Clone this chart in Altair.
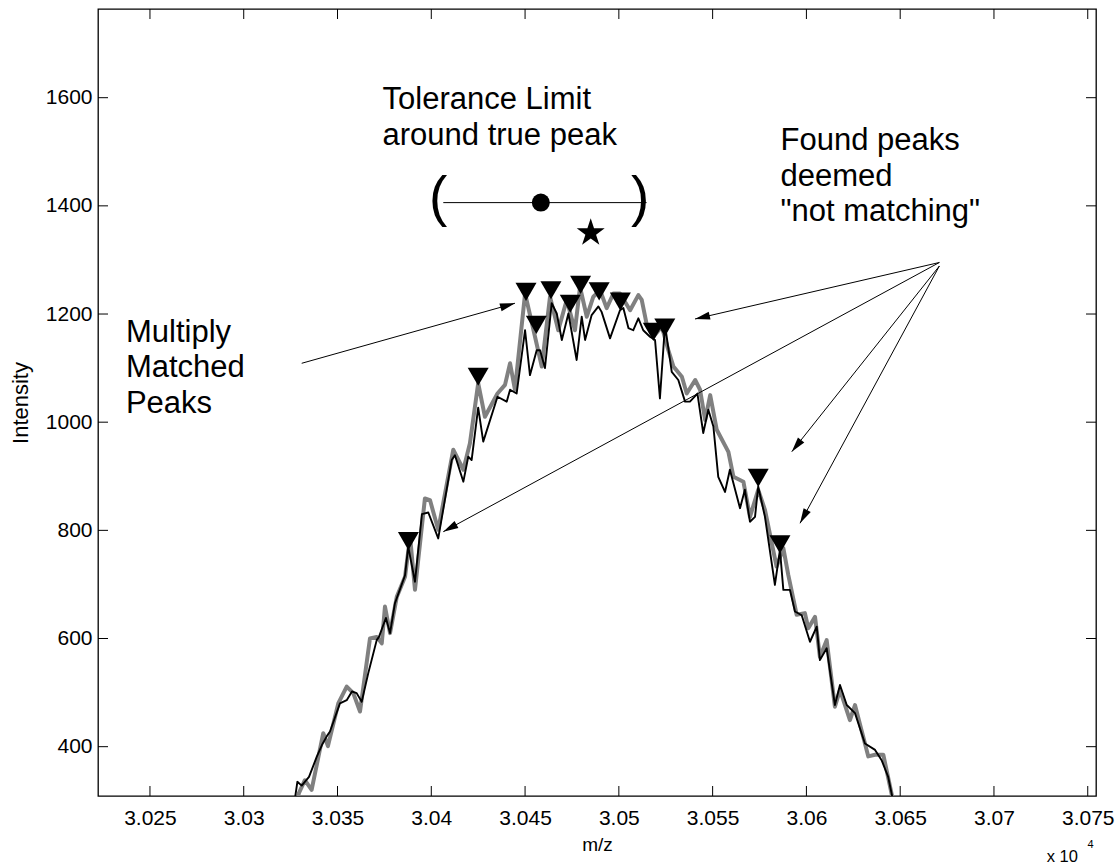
import math
import altair as alt
import pandas as pd

# ---------------- data ----------------
black_mz = [30326.8, 30328.6, 30330.9, 30334.8, 30338.9, 30341.7, 30344.4, 30346.0, 30351.3, 30354.9,
            30357.7, 30360.2, 30362.9, 30366.4, 30370.9, 30372.1, 30375.8, 30378.0, 30380.6, 30386.0,
            30387.7, 30391.3, 30395.0, 30398.4, 30403.7, 30410.9, 30412.6, 30417.1, 30419.7, 30421.5,
            30425.0, 30427.7, 30435.3, 30440.2, 30442.0, 30445.5, 30450.0, 30452.6, 30456.2, 30458.0,
            30460.6, 30464.2, 30466.9, 30469.6, 30473.1, 30477.5, 30480.2, 30482.0, 30485.5, 30489.1,
            30490.8, 30495.3, 30500.6, 30502.4, 30505.1, 30507.7, 30510.4, 30513.0, 30516.6, 30519.3,
            30521.9, 30524.6, 30528.2, 30531.7, 30535.3, 30537.9, 30541.9, 30545.0, 30547.7, 30550.4,
            30553.0, 30556.6, 30559.2, 30564.6, 30567.2, 30569.9, 30572.6, 30574.3, 30577.9, 30583.2,
            30585.9, 30587.7, 30591.2, 30593.9, 30597.5, 30601.9, 30605.5, 30607.2, 30610.8, 30615.2,
            30617.9, 30621.5, 30625.9, 30631.2, 30636.6, 30640.1, 30643.6, 30646.7]
black_int = [292, 335, 328, 344, 381, 403, 420, 428, 480, 486,
             502, 499, 483, 536, 597, 603, 638, 610, 665, 717,
             770, 705, 830, 833, 785, 930, 939, 890, 936, 930,
             1027, 964, 1047, 1038, 1060, 1053, 1170, 1087, 1133, 1133,
             1100, 1220, 1201, 1152, 1201, 1115, 1195, 1152, 1198, 1214,
             1204, 1155, 1207, 1211, 1174, 1170, 1192, 1170, 1158, 1152,
             1044, 1180, 1093, 1078, 1038, 1038, 1053, 980, 1023, 992,
             899, 871, 912, 841, 875, 816, 825, 881, 825, 699,
             764, 690, 690, 650, 643, 594, 622, 560, 582, 477,
             514, 477, 462, 406, 394, 375, 344, 292]

gray_mz = [30327.8, 30329.4, 30332.6, 30336.2, 30342.4, 30344.9, 30350.4, 30354.9, 30358.4, 30362.0,
           30367.3, 30370.9, 30373.6, 30375.3, 30378.0, 30381.6, 30386.0, 30388.7, 30391.3, 30396.6,
           30399.3, 30403.7, 30411.7, 30417.1, 30420.6, 30425.0, 30428.6, 30435.3, 30439.3, 30442.0,
           30444.6, 30450.0, 30455.3, 30458.9, 30463.3, 30467.7, 30472.2, 30476.6, 30479.3, 30482.9,
           30486.4, 30490.0, 30493.5, 30497.1, 30500.6, 30506.0, 30510.4, 30512.2, 30514.9, 30518.4,
           30522.9, 30526.4, 30529.1, 30533.6, 30536.2, 30540.7, 30543.3, 30546.0, 30548.7, 30552.2,
           30558.4, 30561.1, 30566.4, 30569.9, 30574.3, 30577.9, 30584.1, 30587.7, 30590.3, 30594.8,
           30599.2, 30601.0, 30604.6, 30607.2, 30610.8, 30615.2, 30617.9, 30623.2, 30625.9, 30633.0,
           30636.6, 30641.0, 30646.7]
gray_int = [292, 314, 338, 320, 425, 401, 480, 511, 499, 465,
            600, 603, 591, 659, 610, 677, 714, 788, 690, 859,
            856, 801, 949, 912, 961, 1072, 1010, 1053, 1069, 1109,
            1060, 1238, 1158, 1103, 1232, 1170, 1226, 1170, 1250, 1195,
            1232, 1244, 1211, 1238, 1238, 1207, 1235, 1226, 1180, 1158,
            1177, 1133, 1103, 1084, 1053, 1078, 1060, 1004, 1050, 986,
            945, 899, 890, 825, 875, 838, 733, 767, 718, 644,
            647, 619, 640, 566, 597, 474, 505, 449, 477, 382,
            385, 385, 292]

found_mz = [30387.8, 30425.0, 30450.5, 30456.0, 30463.8, 30474.1, 30479.6, 30489.5, 30500.8,
            30518.4, 30524.5, 30574.3, 30585.9]
found_int = [780, 1084, 1241, 1180, 1244, 1219, 1254, 1242, 1223, 1167, 1175, 897, 774]

true_peak_mz = [30458.4]
true_peak_int = [1406]
tol_lo = [30406.4]
tol_hi = [30514.8]
paren_text = ["(", ")"]
paren_mz = [30403.7, 30511.3]
paren_int = [1383, 1383]
star_mz = [30485.0]
star_int = [1350]

x_ticks = [30250, 30300, 30350, 30400, 30450, 30500, 30550, 30600, 30650, 30700, 30750]
y_ticks = [400, 600, 800, 1000, 1200, 1400, 1600]

arrow_start_mz = [30670.9, 30670.9, 30670.9, 30670.9, 30330.9]
arrow_start_int = [1295.3, 1295.3, 1288.8, 1288.8, 1108.9]
arrow_tip_mz = [30540.6, 30406.4, 30592.2, 30596.6, 30444.6]
arrow_tip_int = [1190.8, 797.5, 945.5, 813.1, 1219.9]

label_text = ["Tolerance Limit", "around true peak", "Found peaks", "deemed", '"not matching"',
              "Multiply", "Matched", "Peaks"]
label_mz = [30374.0, 30374.0, 30586.2, 30586.2, 30586.2, 30237.2, 30237.2, 30237.2]
label_int = [1578.6, 1512.0, 1503.3, 1437.6, 1372.0, 1148.8, 1084.1, 1017.6]

# ---------------- layout ----------------
X_DOMAIN = [30222.3, 30754.4]
Y_DOMAIN = [308.8, 1764.0]
W, H = 998, 787
FONT = "Liberation Sans"

xs = alt.Scale(domain=X_DOMAIN, nice=False, zero=False)
ys = alt.Scale(domain=Y_DOMAIN, nice=False, zero=False)

xaxis = alt.Axis(values=x_ticks, labelExpr="format(datum.value / 10000, '.4~f')",
                 ticks=False, tickSize=0, domain=False, grid=False,
                 labelFont=FONT, labelFontSize=21, labelColor="black", labelPadding=11,
                 labelFlush=False, labelOverlap=False,
                 titleFont=FONT, titleFontSize=19, titleFontWeight="normal", titleColor="black",
                 titleX=W / 2, titleY=54, titleBaseline="alphabetic")
yaxis = alt.Axis(values=y_ticks, format="d", ticks=False, tickSize=0, domain=False, grid=False,
                 labelFont=FONT, labelFontSize=21, labelColor="black", labelPadding=6,
                 labelFlush=False, labelOverlap=False,
                 titleFont=FONT, titleFontSize=22, titleFontWeight="normal", titleColor="black",
                 titleX=-70.5, titleY=H / 2, titleAngle=270, titleBaseline="alphabetic")


def X(field="mz"):
    return alt.X(f"{field}:Q", scale=xs, axis=xaxis, title="m/z")


def Y(field="I"):
    return alt.Y(f"{field}:Q", scale=ys, axis=yaxis, title="Intensity")


gray_df = pd.DataFrame({"mz": gray_mz, "I": gray_int})
black_df = pd.DataFrame({"mz": black_mz, "I": black_int})
found_df = pd.DataFrame({"mz": found_mz, "I": found_int})
peak_df = pd.DataFrame({"mz": true_peak_mz, "I": true_peak_int})
tol_df = pd.DataFrame({"mz": tol_lo, "mz2": tol_hi, "I": true_peak_int})
paren_df = pd.DataFrame({"mz": paren_mz, "I": paren_int, "t": paren_text})
star_df = pd.DataFrame({"mz": star_mz, "I": star_int})
label_df = pd.DataFrame({"mz": label_mz, "I": label_int, "t": label_text})

sx = W / (X_DOMAIN[1] - X_DOMAIN[0])
sy = H / (Y_DOMAIN[1] - Y_DOMAIN[0])
angles = []
for x0, y0, x1, y1 in zip(arrow_start_mz, arrow_start_int, arrow_tip_mz, arrow_tip_int):
    dxp = (x1 - x0) * sx
    dyp = -(y1 - y0) * sy
    angles.append(math.degrees(math.atan2(dxp, -dyp)) % 360)
arrow_df = pd.DataFrame({"mz": arrow_start_mz, "I": arrow_start_int,
                         "mz2": arrow_tip_mz, "I2": arrow_tip_int, "ang": angles})
head_df = pd.DataFrame({"mz": arrow_tip_mz, "I": arrow_tip_int, "ang": angles})

xt_df = pd.DataFrame({"mz": x_ticks})
yt_df = pd.DataFrame({"I": y_ticks})

STAR = ("M0,-1L0.2245,-0.309L0.951,-0.309L0.363,0.118L0.588,0.809L0,0.382"
        "L-0.588,0.809L-0.363,0.118L-0.951,-0.309L-0.2245,-0.309Z")
HEAD = "M0,0L0.27,1L-0.27,1Z"

gray_line = alt.Chart(gray_df).mark_line(color="#808080", strokeWidth=4, clip=True,
                                         strokeJoin="round").encode(x=X(), y=Y())
black_line = alt.Chart(black_df).mark_line(color="black", strokeWidth=1.9, clip=True,
                                           strokeJoin="round").encode(x=X(), y=Y())
tri = alt.Chart(found_df).mark_point(shape="triangle-down", size=441, filled=True,
                                     color="black", opacity=1).encode(x=X(), y=Y())
tol = alt.Chart(tol_df).mark_rule(color="black", strokeWidth=1).encode(
    x=X(), x2=alt.X2("mz2:Q"), y=Y())
peak = alt.Chart(peak_df).mark_point(shape="circle", size=324, filled=True,
                                     color="black", opacity=1).encode(x=X(), y=Y())
parens = alt.Chart(paren_df).mark_text(font=FONT, fontSize=55, align="center",
                                       baseline="alphabetic", color="black").encode(
    x=X(), y=Y(), text="t:N")
star = alt.Chart(star_df).mark_point(shape=STAR, size=864, filled=True,
                                     color="black", opacity=1).encode(x=X(), y=Y())
arrow_lines = alt.Chart(arrow_df).mark_rule(color="black", strokeWidth=1).encode(
    x=X(), y=Y(), x2=alt.X2("mz2:Q"), y2=alt.Y2("I2:Q"))
heads = alt.Chart(head_df).mark_point(shape=HEAD, size=900, filled=True, color="black",
                                      opacity=1, strokeWidth=0).encode(
    x=X(), y=Y(), angle=alt.Angle("ang:Q", scale=None))
labels = alt.Chart(label_df).mark_text(font=FONT, fontSize=31, align="left",
                                       baseline="alphabetic", color="black").encode(
    x=X(), y=Y(), text="t:N")

# inward tick marks on all four sides
xt_bottom = alt.Chart(xt_df).mark_rule(color="black", strokeWidth=1).encode(
    x=X(), y=alt.value(H), y2=alt.value(H - 10))
xt_top = alt.Chart(xt_df).mark_rule(color="black", strokeWidth=1).encode(
    x=X(), y=alt.value(0), y2=alt.value(10))
yt_left = alt.Chart(yt_df).mark_rule(color="black", strokeWidth=1).encode(
    y=Y(), x=alt.value(0), x2=alt.value(10))
yt_right = alt.Chart(yt_df).mark_rule(color="black", strokeWidth=1).encode(
    y=Y(), x=alt.value(W), x2=alt.value(W - 10))

exp_base = alt.Chart(pd.DataFrame({"t": ["x 10"]})).mark_text(
    font=FONT, fontSize=16.5, align="left", baseline="alphabetic", color="black").encode(
    x=alt.value(948.7), y=alt.value(H + 66), text="t:N")
exp_sup = alt.Chart(pd.DataFrame({"t": ["4"]})).mark_text(
    font=FONT, fontSize=11, align="left", baseline="alphabetic", color="black").encode(
    x=alt.value(989.5), y=alt.value(H + 52), text="t:N")

chart = alt.layer(
    gray_line, black_line, tri, tol, peak, parens, star, arrow_lines, heads, labels,
    xt_bottom, xt_top, yt_left, yt_right, exp_base, exp_sup
).properties(
    width=W, height=H,
    autosize=alt.AutoSizeParams(type="none"),
    padding={"left": 98, "top": 9, "right": 24, "bottom": 71},
    background="white",
).configure_view(stroke="black", strokeWidth=1.3)

chart.save("out.html", embed_options={"renderer": "svg", "actions": False})
